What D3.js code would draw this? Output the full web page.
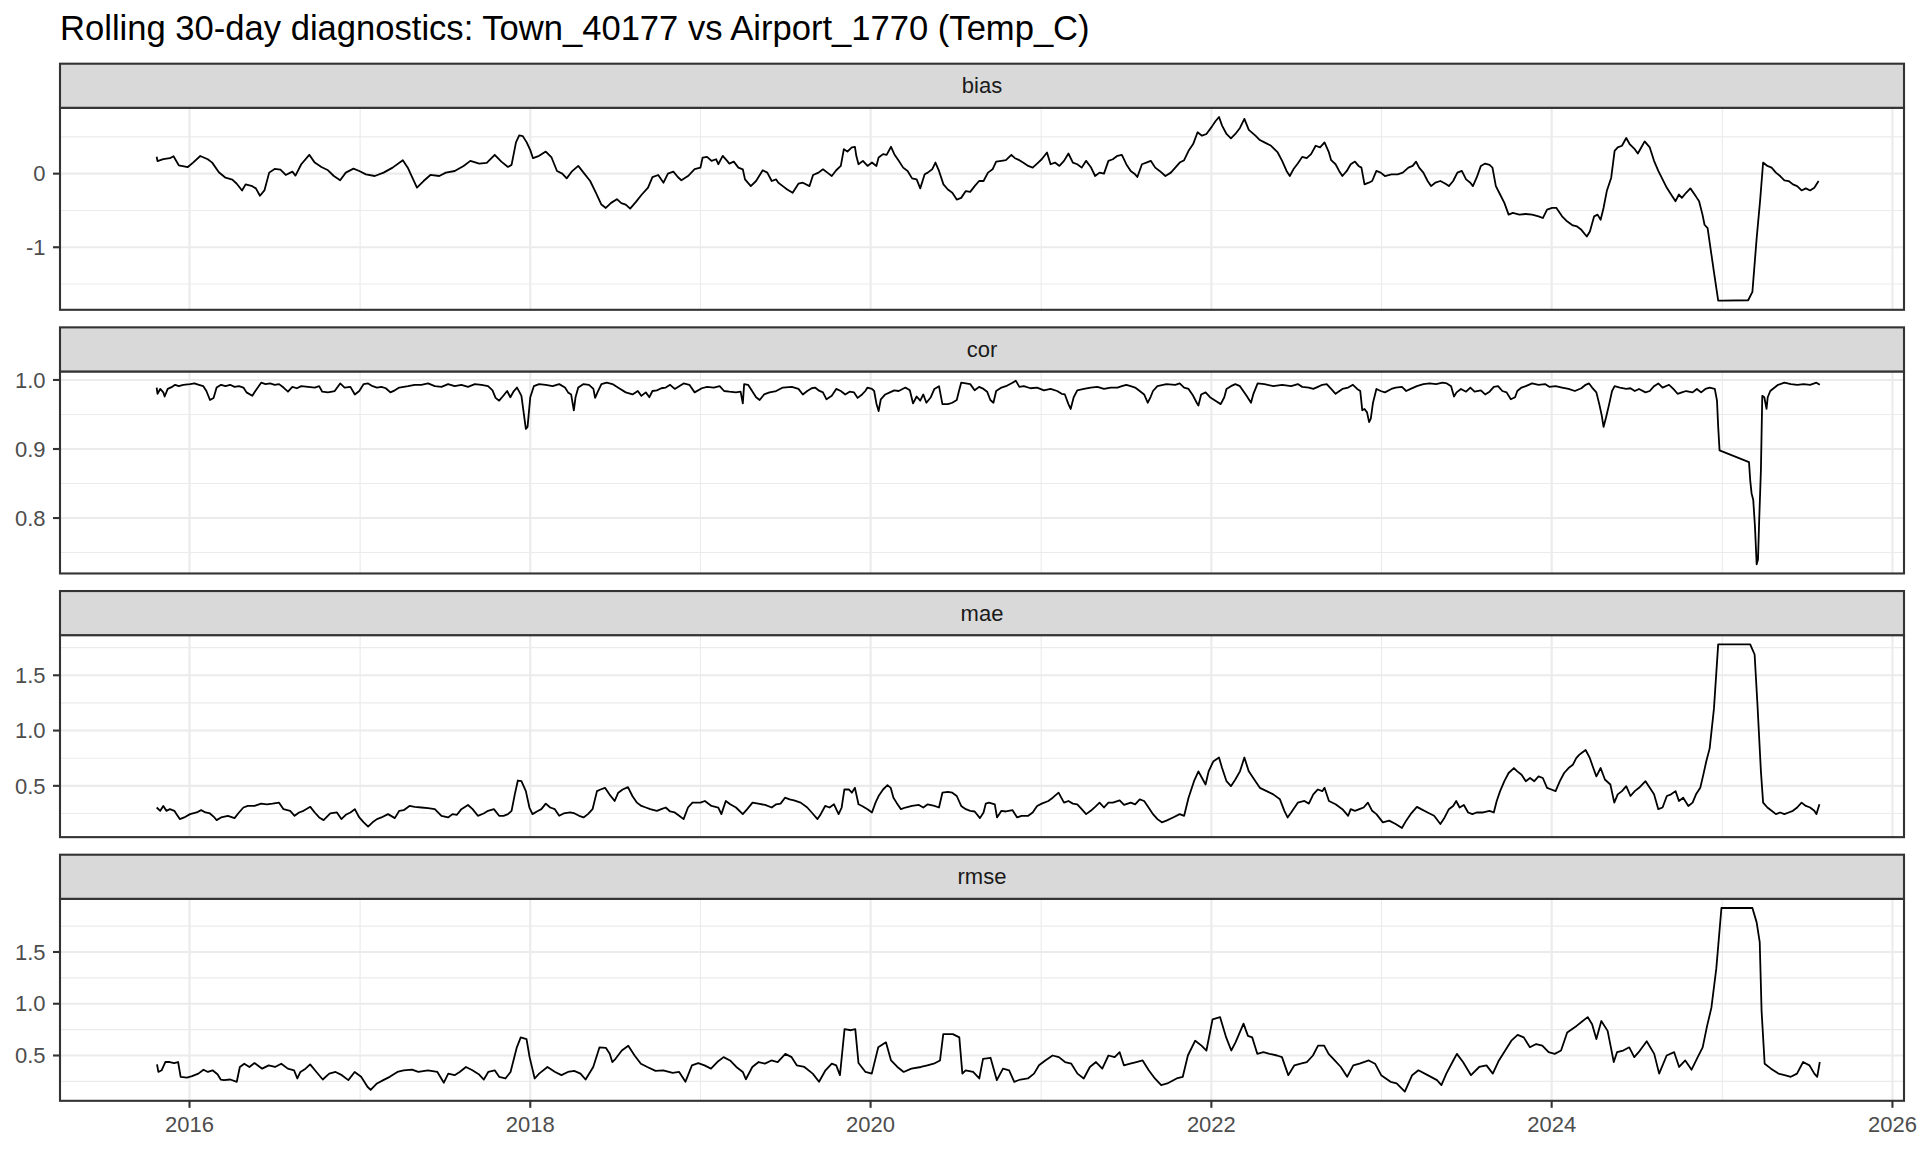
<!DOCTYPE html>
<html><head><meta charset="utf-8">
<script src="https://cdn.jsdelivr.net/npm/d3@7"></script>
<style>body{margin:0;background:#fff} svg{display:block} text{font-family:"Liberation Sans",Arial,sans-serif}</style>
</head><body><svg id="c" width="1920" height="1152"></svg>
<script>
const titleText = "Rolling 30-day diagnostics: Town_40177 vs Airport_1770 (Temp_C)";
const facetNames = ["bias","cor","mae","rmse"];
const dateRange = ["2015-09-25","2025-07-30"];
const xMajorYears = [2016,2018,2020,2022,2024,2026];
const xMinorYears = [2015,2017,2019,2021,2023,2025];
const biasTicks = [-1,0], biasLabels = ["-1","0"], biasMinor = [-1.5,-0.5,0.5];
const corTicks = [0.8,0.9,1.0], corLabels = ["0.8","0.9","1.0"], corMinor = [0.75,0.85,0.95];
const maeTicks = [0.5,1.0,1.5], maeLabels = ["0.5","1.0","1.5"], maeMinor = [0.25,0.75,1.25,1.75];
const rmseTicks = [0.5,1.0,1.5], rmseLabels = ["0.5","1.0","1.5"], rmseMinor = [0.25,0.75,1.25,1.75];

// [decimal year, value]
const biasData = [[2015.807,0.23],[2015.812,0.17],[2015.846,0.196],[2015.885,0.21],[2015.906,0.237],[2015.937,0.114],[2015.99,0.09],[2016.021,0.15],[2016.063,0.24],[2016.107,0.196],[2016.133,0.15],[2016.172,0.02],[2016.211,-0.055],[2016.251,-0.08],[2016.277,-0.137],[2016.308,-0.228],[2016.329,-0.146],[2016.368,-0.17],[2016.389,-0.2],[2016.413,-0.3],[2016.439,-0.228],[2016.467,0.014],[2016.499,0.064],[2016.533,0.055],[2016.564,-0.018],[2016.603,0.027],[2016.621,-0.027],[2016.655,0.128],[2016.702,0.256],[2016.734,0.15],[2016.773,0.09],[2016.812,0.046],[2016.846,-0.032],[2016.883,-0.09],[2016.916,0.014],[2016.961,0.068],[2016.995,0.036],[2017.034,-0.01],[2017.086,-0.032],[2017.138,0.014],[2017.191,0.082],[2017.251,0.183],[2017.282,0.073],[2017.334,-0.19],[2017.373,-0.1],[2017.413,-0.018],[2017.465,-0.032],[2017.504,0.014],[2017.556,0.036],[2017.608,0.105],[2017.648,0.174],[2017.7,0.137],[2017.744,0.146],[2017.791,0.256],[2017.83,0.164],[2017.869,0.091],[2017.89,0.119],[2017.916,0.425],[2017.935,0.52],[2017.956,0.51],[2017.979,0.425],[2018.0,0.32],[2018.016,0.21],[2018.052,0.242],[2018.091,0.3],[2018.125,0.22],[2018.157,0.036],[2018.188,0.0],[2018.214,-0.064],[2018.243,0.027],[2018.282,0.105],[2018.313,0.014],[2018.352,-0.1],[2018.386,-0.26],[2018.418,-0.42],[2018.444,-0.466],[2018.475,-0.397],[2018.509,-0.347],[2018.535,-0.4],[2018.561,-0.42],[2018.587,-0.475],[2018.621,-0.384],[2018.653,-0.29],[2018.692,-0.19],[2018.718,-0.046],[2018.752,-0.018],[2018.783,-0.123],[2018.809,0.0],[2018.841,0.027],[2018.867,-0.046],[2018.888,-0.09],[2018.927,-0.032],[2018.966,0.06],
[2019.0,0.082],[2019.013,0.219],[2019.039,0.228],[2019.065,0.174],[2019.092,0.196],[2019.105,0.128],[2019.131,0.242],[2019.157,0.174],[2019.17,0.137],[2019.196,0.164],[2019.223,0.082],[2019.249,0.059],[2019.262,-0.078],[2019.296,-0.169],[2019.327,-0.1],[2019.366,0.046],[2019.393,0.014],[2019.419,-0.1],[2019.445,-0.078],[2019.458,-0.123],[2019.484,-0.169],[2019.51,-0.215],[2019.542,-0.26],[2019.576,-0.137],[2019.602,-0.123],[2019.641,-0.169],[2019.662,-0.018],[2019.694,0.014],[2019.72,0.059],[2019.746,0.014],[2019.772,-0.032],[2019.798,0.046],[2019.825,0.105],[2019.843,0.333],[2019.864,0.301],[2019.89,0.356],[2019.908,0.365],[2019.916,0.242],[2019.929,0.128],[2019.955,0.174],[2019.982,0.105],[2020.008,0.151],[2020.034,0.105],[2020.047,0.219],[2020.073,0.265],[2020.094,0.256],[2020.12,0.365],[2020.139,0.265],[2020.165,0.174],[2020.191,0.082],[2020.217,0.037],[2020.243,-0.064],[2020.27,-0.078],[2020.291,-0.2],[2020.317,-0.009],[2020.335,0.014],[2020.361,0.059],[2020.38,0.151],[2020.401,0.037],[2020.427,-0.146],[2020.453,-0.215],[2020.479,-0.26],[2020.505,-0.352],[2020.531,-0.329],[2020.558,-0.237],[2020.584,-0.247],[2020.61,-0.169],[2020.636,-0.1],[2020.662,-0.1],[2020.688,0.014],[2020.715,0.059],[2020.736,0.164],[2020.767,0.174],[2020.793,0.183],[2020.825,0.256],[2020.846,0.21],[2020.872,0.183],[2020.898,0.146],[2020.924,0.105],[2020.95,0.082],[2020.976,0.137],[2021.003,0.196],[2021.034,0.288],[2021.055,0.128],[2021.081,0.151],[2021.107,0.105],[2021.134,0.174],[2021.16,0.274],[2021.186,0.151],[2021.212,0.128],[2021.238,0.082],[2021.264,0.174],[2021.291,0.091],[2021.317,-0.032],[2021.343,0.014],[2021.369,0.0],[2021.395,0.174],[2021.421,0.196],[2021.448,0.242],[2021.474,0.256],[2021.5,0.128],[2021.526,0.037],[2021.552,-0.009],[2021.565,-0.046],[2021.592,0.128],[2021.618,0.151],[2021.644,0.174],[2021.67,0.082],[2021.696,0.037],[2021.73,-0.032],[2021.762,0.014],[2021.788,0.082],[2021.814,0.151],[2021.84,0.183],[2021.866,0.311],[2021.893,0.402],[2021.919,0.562],[2021.945,0.516],[2021.971,0.539],[2022.003,0.639],[2022.024,0.712],[2022.045,0.77],[2022.063,0.653],[2022.089,0.539],[2022.115,0.479],[2022.141,0.539],[2022.168,0.621],[2022.194,0.744],[2022.22,0.594],[2022.259,0.516],[2022.285,0.457],[2022.312,0.425],[2022.351,0.379],[2022.39,0.288],[2022.416,0.174],[2022.442,0.037],[2022.461,-0.032],[2022.482,0.059],[2022.508,0.137],[2022.534,0.228],[2022.56,0.21],[2022.586,0.265],[2022.613,0.379],[2022.639,0.356],[2022.665,0.425],[2022.691,0.288],[2022.704,0.183],[2022.73,0.128],[2022.751,0.037],[2022.77,-0.032],[2022.796,0.037],
[2022.819,0.128],[2022.844,0.164],[2022.865,0.105],[2022.882,0.082],[2022.9,-0.146],[2022.925,-0.123],[2022.945,-0.1],[2022.97,0.037],[2022.995,0.014],[2023.02,-0.032],[2023.058,-0.009],[2023.095,-0.009],[2023.125,0.014],[2023.158,0.082],[2023.183,0.105],[2023.203,0.164],[2023.221,0.082],[2023.246,0.014],[2023.271,-0.1],[2023.291,-0.169],[2023.316,-0.123],[2023.346,-0.1],[2023.376,-0.137],[2023.396,-0.169],[2023.421,-0.1],[2023.446,0.014],[2023.472,0.037],[2023.497,-0.078],[2023.522,-0.123],[2023.537,-0.169],[2023.559,-0.055],[2023.584,0.105],[2023.609,0.137],[2023.635,0.119],[2023.652,0.082],[2023.672,-0.169],[2023.697,-0.283],[2023.722,-0.397],[2023.747,-0.557],[2023.772,-0.534],[2023.81,-0.557],[2023.848,-0.548],[2023.885,-0.557],[2023.923,-0.58],[2023.948,-0.603],[2023.973,-0.489],[2024.003,-0.466],[2024.028,-0.466],[2024.061,-0.58],[2024.086,-0.639],[2024.124,-0.703],[2024.149,-0.717],[2024.174,-0.763],[2024.206,-0.854],[2024.224,-0.785],[2024.249,-0.58],[2024.269,-0.557],[2024.287,-0.626],[2024.304,-0.466],[2024.324,-0.228],[2024.349,-0.055],[2024.369,0.311],[2024.387,0.356],[2024.412,0.379],[2024.437,0.484],[2024.457,0.402],[2024.487,0.333],[2024.505,0.274],[2024.525,0.356],[2024.545,0.438],[2024.575,0.356],[2024.6,0.174],[2024.625,0.037],[2024.65,-0.078],[2024.675,-0.192],[2024.7,-0.283],[2024.726,-0.374],[2024.746,-0.283],[2024.763,-0.329],[2024.788,-0.26],[2024.813,-0.2],[2024.838,-0.283],[2024.851,-0.329],[2024.864,-0.374],[2024.884,-0.557],[2024.896,-0.694],[2024.914,-0.74],[2024.931,-1.014],[2024.951,-1.333],[2024.976,-1.725],[2025.001,-1.725],[2025.152,-1.72],[2025.177,-1.607],[2025.202,-0.877],[2025.222,-0.374],[2025.24,0.151],[2025.265,0.105],[2025.29,0.082],[2025.315,0.014],[2025.34,-0.032],[2025.365,-0.091],[2025.39,-0.1],[2025.415,-0.146],[2025.44,-0.169],[2025.466,-0.228],[2025.491,-0.2],[2025.516,-0.228],[2025.541,-0.192],[2025.566,-0.1]];

const corData = [[2015.807,0.989],[2015.812,0.98],[2015.828,0.987],[2015.846,0.982],[2015.854,0.976],[2015.872,0.987],[2015.898,0.99],[2015.916,0.993],[2015.937,0.991],[2015.963,0.993],[2016.003,0.994],[2016.029,0.995],[2016.055,0.993],[2016.081,0.991],[2016.099,0.984],[2016.12,0.971],[2016.141,0.974],[2016.159,0.989],[2016.185,0.993],[2016.211,0.991],[2016.238,0.993],[2016.264,0.99],[2016.29,0.991],[2016.316,0.989],[2016.334,0.982],[2016.368,0.977],[2016.386,0.984],[2016.42,0.996],[2016.446,0.994],[2016.473,0.995],[2016.499,0.993],[2016.525,0.994],[2016.551,0.989],[2016.577,0.983],[2016.603,0.99],[2016.629,0.988],[2016.655,0.991],[2016.695,0.99],[2016.734,0.989],[2016.76,0.991],[2016.778,0.983],[2016.812,0.982],[2016.851,0.984],[2016.883,0.995],[2016.909,0.989],[2016.943,0.99],[2016.969,0.979],[2016.995,0.984],[2017.021,0.994],[2017.047,0.995],[2017.073,0.991],[2017.099,0.989],[2017.125,0.99],[2017.151,0.988],[2017.178,0.982],[2017.204,0.985],[2017.23,0.989],[2017.256,0.99],[2017.282,0.991],[2017.321,0.993],[2017.36,0.993],[2017.399,0.995],[2017.439,0.991],[2017.478,0.99],[2017.517,0.994],[2017.556,0.991],[2017.595,0.993],[2017.634,0.99],[2017.674,0.994],[2017.713,0.993],[2017.752,0.991],[2017.778,0.985],[2017.796,0.974],[2017.817,0.97],[2017.838,0.976],[2017.864,0.984],[2017.883,0.975],[2017.901,0.983],[2017.922,0.989],[2017.935,0.983],[2017.948,0.977],[2017.961,0.953],[2017.974,0.929],[2017.984,0.932],[2018.0,0.975],[2018.021,0.991],[2018.052,0.994],[2018.091,0.993],[2018.131,0.991],[2018.17,0.994],[2018.204,0.989],[2018.222,0.982],[2018.24,0.979],[2018.256,0.956],[2018.266,0.975],[2018.282,0.989],[2018.313,0.994],[2018.345,0.993],[2018.371,0.987],[2018.381,0.974],[2018.397,0.983],[2018.418,0.994],[2018.449,0.996],[2018.483,0.994],[2018.522,0.988],[2018.561,0.982],[2018.601,0.979],[2018.632,0.984],[2018.653,0.977],[2018.679,0.982],[2018.7,0.975],[2018.718,0.984],[2018.744,0.985],[2018.77,0.988],[2018.796,0.989],[2018.822,0.993],[2018.849,0.987],[2018.875,0.991],[2018.901,0.995],[2018.935,0.993],[2018.966,0.982],
[2019.008,0.988],[2019.039,0.99],[2019.079,0.989],[2019.113,0.991],[2019.139,0.984],[2019.17,0.983],[2019.209,0.982],[2019.236,0.983],[2019.249,0.966],[2019.257,0.994],[2019.28,0.993],[2019.301,0.985],[2019.327,0.975],[2019.348,0.971],[2019.374,0.979],[2019.406,0.982],[2019.445,0.984],[2019.484,0.989],[2019.537,0.99],[2019.576,0.987],[2019.602,0.979],[2019.628,0.984],[2019.654,0.988],[2019.673,0.989],[2019.694,0.985],[2019.72,0.982],[2019.741,0.972],[2019.772,0.977],[2019.798,0.987],[2019.825,0.984],[2019.851,0.979],[2019.877,0.983],[2019.903,0.982],[2019.924,0.974],[2019.95,0.979],[2019.969,0.984],[2019.982,0.989],[2020.008,0.987],[2020.021,0.984],[2020.034,0.966],[2020.047,0.955],[2020.06,0.972],[2020.086,0.979],[2020.113,0.982],[2020.139,0.985],[2020.165,0.984],[2020.204,0.989],[2020.23,0.985],[2020.249,0.966],[2020.27,0.976],[2020.291,0.97],[2020.309,0.979],[2020.327,0.967],[2020.353,0.975],[2020.374,0.987],[2020.401,0.991],[2020.421,0.965],[2020.453,0.965],[2020.479,0.967],[2020.505,0.971],[2020.518,0.984],[2020.531,0.996],[2020.558,0.995],[2020.584,0.994],[2020.61,0.985],[2020.636,0.99],[2020.662,0.987],[2020.683,0.983],[2020.702,0.971],[2020.72,0.967],[2020.736,0.984],[2020.767,0.989],[2020.793,0.991],[2020.832,0.996],[2020.851,0.999],[2020.872,0.99],[2020.898,0.991],[2020.937,0.988],[2020.976,0.989],[2021.016,0.985],[2021.055,0.987],[2021.094,0.984],[2021.12,0.98],[2021.139,0.979],[2021.16,0.965],[2021.173,0.958],[2021.191,0.975],[2021.212,0.985],[2021.251,0.987],[2021.291,0.989],[2021.33,0.99],[2021.369,0.987],[2021.408,0.989],[2021.448,0.989],[2021.474,0.991],[2021.5,0.993],[2021.526,0.991],[2021.552,0.989],[2021.579,0.984],[2021.605,0.979],[2021.626,0.967],[2021.644,0.976],[2021.657,0.984],[2021.683,0.991],[2021.736,0.994],[2021.788,0.993],[2021.814,0.995],[2021.84,0.989],[2021.866,0.987],[2021.893,0.977],[2021.914,0.967],[2021.924,0.963],[2021.94,0.979],[2021.966,0.982],[2021.992,0.975],[2022.024,0.97],[2022.055,0.965],[2022.076,0.975],[2022.089,0.987],[2022.115,0.991],[2022.141,0.994],[2022.168,0.991],[2022.207,0.977],[2022.233,0.967],[2022.246,0.979],[2022.272,0.995],[2022.312,0.994],[2022.364,0.991],[2022.416,0.993],[2022.469,0.991],[2022.508,0.994],[2022.534,0.99],[2022.573,0.989],[2022.599,0.987],[2022.626,0.99],[2022.652,0.993],[2022.678,0.994],[2022.704,0.987],[2022.73,0.98],[2022.77,0.987],[2022.804,0.989],
[2022.832,0.993],[2022.857,0.987],[2022.875,0.984],[2022.887,0.956],[2022.9,0.958],[2022.915,0.953],[2022.927,0.939],[2022.937,0.944],[2022.95,0.967],[2022.962,0.979],[2022.97,0.987],[2022.995,0.984],[2023.02,0.982],[2023.058,0.987],[2023.083,0.989],[2023.12,0.99],[2023.145,0.984],[2023.171,0.987],[2023.208,0.991],[2023.246,0.994],[2023.283,0.995],[2023.321,0.994],[2023.359,0.996],[2023.384,0.995],[2023.409,0.991],[2023.426,0.976],[2023.441,0.982],[2023.467,0.987],[2023.497,0.983],[2023.522,0.989],[2023.547,0.983],[2023.584,0.985],[2023.609,0.979],[2023.635,0.983],[2023.66,0.99],[2023.685,0.991],[2023.71,0.984],[2023.735,0.982],[2023.76,0.972],[2023.785,0.975],[2023.798,0.984],[2023.823,0.989],[2023.848,0.991],[2023.885,0.995],[2023.923,0.993],[2023.961,0.994],[2023.986,0.99],[2024.023,0.991],[2024.061,0.989],[2024.099,0.987],[2024.136,0.984],[2024.174,0.988],[2024.199,0.993],[2024.219,0.995],[2024.237,0.989],[2024.262,0.982],[2024.279,0.965],[2024.294,0.948],[2024.304,0.932],[2024.319,0.946],[2024.337,0.965],[2024.354,0.984],[2024.369,0.991],[2024.4,0.989],[2024.437,0.987],[2024.462,0.988],[2024.487,0.984],[2024.512,0.987],[2024.55,0.982],[2024.575,0.984],[2024.6,0.991],[2024.625,0.995],[2024.65,0.989],[2024.688,0.993],[2024.713,0.987],[2024.738,0.98],[2024.763,0.982],[2024.788,0.984],[2024.826,0.982],[2024.851,0.987],[2024.876,0.982],[2024.901,0.987],[2024.926,0.989],[2024.956,0.987],[2024.969,0.97],[2024.976,0.932],[2024.984,0.898],[2025.157,0.881],[2025.164,0.855],[2025.172,0.836],[2025.182,0.826],[2025.192,0.788],[2025.202,0.733],[2025.21,0.74],[2025.217,0.798],[2025.227,0.869],[2025.235,0.977],[2025.247,0.975],[2025.26,0.958],[2025.267,0.975],[2025.282,0.984],[2025.302,0.988],[2025.328,0.993],[2025.365,0.996],[2025.403,0.994],[2025.441,0.993],[2025.478,0.994],[2025.516,0.993],[2025.553,0.996],[2025.573,0.993]];

const maeData = [[2015.807,0.304],[2015.828,0.274],[2015.846,0.318],[2015.864,0.274],[2015.885,0.289],[2015.911,0.274],[2015.924,0.244],[2015.943,0.199],[2015.969,0.214],[2016.003,0.244],[2016.042,0.259],[2016.068,0.28],[2016.094,0.259],[2016.12,0.25],[2016.146,0.214],[2016.159,0.19],[2016.185,0.214],[2016.225,0.229],[2016.264,0.208],[2016.29,0.259],[2016.316,0.304],[2016.342,0.318],[2016.381,0.318],[2016.42,0.339],[2016.454,0.333],[2016.486,0.339],[2016.525,0.348],[2016.551,0.289],[2016.59,0.274],[2016.616,0.229],[2016.642,0.259],[2016.668,0.274],[2016.708,0.31],[2016.734,0.259],[2016.76,0.214],[2016.786,0.19],[2016.825,0.25],[2016.864,0.259],[2016.89,0.199],[2016.916,0.238],[2016.943,0.259],[2016.969,0.289],[2016.995,0.214],[2017.021,0.17],[2017.047,0.131],[2017.073,0.17],[2017.099,0.199],[2017.125,0.214],[2017.164,0.244],[2017.204,0.208],[2017.23,0.274],[2017.256,0.28],[2017.29,0.318],[2017.321,0.31],[2017.36,0.304],[2017.399,0.298],[2017.439,0.289],[2017.478,0.229],[2017.517,0.214],[2017.543,0.244],[2017.569,0.238],[2017.595,0.289],[2017.634,0.327],[2017.661,0.289],[2017.692,0.229],[2017.726,0.25],[2017.752,0.274],[2017.786,0.289],[2017.817,0.229],[2017.843,0.229],[2017.869,0.244],[2017.89,0.274],[2017.909,0.423],[2017.927,0.548],[2017.948,0.542],[2017.974,0.452],[2017.995,0.304],[2018.013,0.244],[2018.039,0.268],[2018.065,0.289],[2018.091,0.339],[2018.117,0.304],[2018.144,0.289],[2018.17,0.229],[2018.196,0.25],[2018.235,0.259],[2018.261,0.25],[2018.287,0.229],[2018.313,0.214],[2018.339,0.244],[2018.366,0.289],[2018.392,0.452],[2018.413,0.467],[2018.439,0.482],[2018.465,0.423],[2018.496,0.363],[2018.517,0.438],[2018.543,0.467],[2018.574,0.488],[2018.6,0.408],[2018.627,0.348],[2018.653,0.318],[2018.679,0.304],[2018.705,0.289],[2018.744,0.274],[2018.77,0.289],[2018.796,0.304],[2018.822,0.268],[2018.849,0.259],[2018.875,0.229],[2018.901,0.199],[2018.927,0.304],[2018.953,0.348],
[2019.0,0.348],[2019.026,0.363],[2019.065,0.318],[2019.105,0.304],[2019.123,0.244],[2019.149,0.363],[2019.175,0.333],[2019.209,0.304],[2019.249,0.244],[2019.275,0.289],[2019.306,0.348],[2019.34,0.339],[2019.38,0.327],[2019.419,0.304],[2019.445,0.333],[2019.471,0.339],[2019.497,0.393],[2019.524,0.378],[2019.55,0.369],[2019.589,0.348],[2019.628,0.304],[2019.654,0.259],[2019.688,0.199],[2019.707,0.244],[2019.733,0.318],[2019.759,0.304],[2019.785,0.333],[2019.812,0.244],[2019.83,0.304],[2019.846,0.467],[2019.872,0.467],[2019.89,0.438],[2019.908,0.482],[2019.929,0.333],[2019.95,0.318],[2019.982,0.289],[2020.008,0.259],[2020.029,0.348],[2020.047,0.408],[2020.073,0.467],[2020.099,0.506],[2020.118,0.482],[2020.134,0.393],[2020.152,0.348],[2020.178,0.289],[2020.204,0.304],[2020.243,0.318],[2020.283,0.327],[2020.309,0.304],[2020.335,0.333],[2020.374,0.318],[2020.401,0.304],[2020.421,0.438],[2020.453,0.446],[2020.479,0.438],[2020.505,0.408],[2020.531,0.318],[2020.558,0.289],[2020.584,0.274],[2020.61,0.268],[2020.641,0.208],[2020.662,0.259],[2020.675,0.339],[2020.694,0.348],[2020.728,0.333],[2020.741,0.214],[2020.767,0.274],[2020.793,0.268],[2020.832,0.28],[2020.859,0.214],[2020.885,0.229],[2020.924,0.229],[2020.95,0.259],[2020.976,0.318],[2021.003,0.339],[2021.042,0.363],[2021.068,0.393],[2021.102,0.438],[2021.134,0.348],[2021.16,0.363],[2021.186,0.339],[2021.212,0.333],[2021.238,0.289],[2021.264,0.244],[2021.291,0.274],[2021.317,0.31],[2021.343,0.348],[2021.369,0.304],[2021.395,0.348],[2021.421,0.348],[2021.461,0.369],[2021.487,0.327],[2021.526,0.348],[2021.552,0.333],[2021.579,0.378],[2021.605,0.363],[2021.631,0.304],[2021.657,0.244],[2021.683,0.199],[2021.709,0.17],[2021.736,0.185],[2021.775,0.214],[2021.814,0.244],[2021.84,0.229],[2021.866,0.393],[2021.898,0.542],[2021.924,0.631],[2021.945,0.571],[2021.966,0.512],[2021.984,0.631],[2022.011,0.72],[2022.045,0.756],[2022.063,0.661],[2022.089,0.542],[2022.115,0.497],[2022.141,0.557],[2022.168,0.631],[2022.194,0.756],[2022.22,0.631],[2022.259,0.542],[2022.285,0.482],[2022.325,0.452],[2022.364,0.423],[2022.403,0.378],[2022.429,0.274],[2022.448,0.214],[2022.469,0.259],[2022.508,0.348],[2022.547,0.363],[2022.573,0.339],[2022.599,0.423],[2022.626,0.467],[2022.652,0.452],[2022.665,0.482],[2022.691,0.363],[2022.73,0.333],[2022.77,0.289],[2022.804,0.229],
[2022.819,0.289],[2022.844,0.274],[2022.87,0.289],[2022.895,0.304],[2022.92,0.348],[2022.945,0.274],[2022.97,0.244],[2023.008,0.17],[2023.045,0.185],[2023.083,0.155],[2023.12,0.119],[2023.145,0.185],[2023.171,0.244],[2023.208,0.31],[2023.233,0.289],[2023.271,0.259],[2023.309,0.229],[2023.346,0.155],[2023.371,0.214],[2023.396,0.289],[2023.421,0.318],[2023.439,0.363],[2023.459,0.304],[2023.484,0.327],[2023.509,0.259],[2023.534,0.244],[2023.559,0.259],[2023.597,0.259],[2023.635,0.274],[2023.66,0.259],[2023.677,0.363],[2023.697,0.452],[2023.722,0.542],[2023.747,0.616],[2023.778,0.661],[2023.798,0.631],[2023.823,0.601],[2023.848,0.542],[2023.873,0.571],[2023.898,0.542],[2023.923,0.586],[2023.948,0.571],[2023.973,0.482],[2023.998,0.467],[2024.023,0.452],[2024.048,0.542],[2024.073,0.616],[2024.099,0.661],[2024.124,0.69],[2024.144,0.75],[2024.161,0.78],[2024.181,0.804],[2024.199,0.824],[2024.224,0.75],[2024.244,0.661],[2024.262,0.586],[2024.287,0.661],[2024.312,0.557],[2024.344,0.512],[2024.367,0.348],[2024.387,0.423],[2024.412,0.452],[2024.437,0.497],[2024.462,0.408],[2024.487,0.452],[2024.512,0.482],[2024.55,0.542],[2024.575,0.482],[2024.6,0.423],[2024.625,0.289],[2024.65,0.304],[2024.675,0.408],[2024.7,0.423],[2024.726,0.452],[2024.746,0.363],[2024.771,0.393],[2024.801,0.318],[2024.826,0.348],[2024.846,0.423],[2024.871,0.482],[2024.889,0.601],[2024.906,0.72],[2024.926,0.839],[2024.951,1.196],[2024.976,1.78],[2025.164,1.78],[2025.19,1.688],[2025.207,1.226],[2025.227,0.631],[2025.24,0.348],[2025.265,0.304],[2025.29,0.274],[2025.315,0.244],[2025.34,0.259],[2025.365,0.244],[2025.39,0.259],[2025.415,0.274],[2025.44,0.304],[2025.466,0.348],[2025.491,0.318],[2025.516,0.304],[2025.541,0.274],[2025.553,0.244],[2025.571,0.333]];

const rmseData = [[2015.809,0.414],[2015.817,0.341],[2015.836,0.357],[2015.858,0.437],[2015.884,0.437],[2015.91,0.427],[2015.933,0.437],[2015.948,0.294],[2015.985,0.287],[2016.015,0.3],[2016.052,0.325],[2016.082,0.363],[2016.108,0.341],[2016.135,0.357],[2016.164,0.319],[2016.183,0.268],[2016.202,0.262],[2016.239,0.268],[2016.277,0.246],[2016.295,0.389],[2016.321,0.421],[2016.351,0.389],[2016.381,0.427],[2016.426,0.373],[2016.464,0.405],[2016.501,0.389],[2016.538,0.421],[2016.576,0.373],[2016.613,0.357],[2016.632,0.278],[2016.65,0.341],[2016.68,0.373],[2016.707,0.414],[2016.744,0.341],[2016.781,0.268],[2016.819,0.325],[2016.856,0.341],[2016.893,0.31],[2016.931,0.262],[2016.968,0.341],[2017.006,0.294],[2017.043,0.198],[2017.062,0.167],[2017.099,0.23],[2017.136,0.262],[2017.174,0.294],[2017.219,0.341],[2017.256,0.357],[2017.305,0.363],[2017.342,0.341],[2017.398,0.357],[2017.454,0.341],[2017.492,0.237],[2017.518,0.325],[2017.555,0.31],[2017.585,0.341],[2017.622,0.389],[2017.66,0.357],[2017.697,0.319],[2017.727,0.268],[2017.753,0.341],[2017.791,0.357],[2017.817,0.294],[2017.854,0.278],[2017.884,0.341],[2017.921,0.579],[2017.944,0.675],[2017.978,0.659],[2017.996,0.484],[2018.026,0.278],[2018.052,0.325],[2018.101,0.389],[2018.146,0.341],[2018.183,0.31],[2018.221,0.341],[2018.258,0.351],[2018.295,0.325],[2018.325,0.268],[2018.37,0.389],[2018.407,0.579],[2018.445,0.573],[2018.467,0.516],[2018.482,0.437],[2018.501,0.468],[2018.538,0.548],[2018.576,0.595],[2018.613,0.5],[2018.65,0.421],[2018.688,0.389],[2018.736,0.351],[2018.781,0.357],[2018.837,0.332],[2018.875,0.341],[2018.912,0.246],[2018.95,0.405],[2018.987,0.427],[2019.024,0.405],[2019.062,0.373],[2019.099,0.437],[2019.136,0.484],[2019.174,0.452],[2019.211,0.389],[2019.249,0.341],[2019.267,0.271],[2019.305,0.389],[2019.342,0.437],[2019.379,0.421],[2019.417,0.452],[2019.454,0.437],[2019.499,0.516],[2019.536,0.484],[2019.566,0.405],[2019.611,0.389],[2019.66,0.325],[2019.697,0.246],[2019.735,0.357],[2019.772,0.421],[2019.798,0.405],[2019.82,0.31],[2019.847,0.754],[2019.884,0.744],[2019.91,0.754],[2019.929,0.427],[2019.97,0.341],[2020.007,0.325],[2020.045,0.579],[2020.09,0.627],[2020.12,0.452],[2020.157,0.389],[2020.194,0.341],[2020.239,0.373],[2020.295,0.389],[2020.333,0.405],[2020.37,0.421],[2020.407,0.452],[2020.426,0.706],[2020.482,0.706],[2020.52,0.675],[2020.538,0.325],
[2020.557,0.357],[2020.601,0.341],[2020.637,0.278],[2020.659,0.468],[2020.703,0.478],[2020.74,0.262],[2020.776,0.373],[2020.812,0.357],[2020.842,0.246],[2020.878,0.268],[2020.922,0.278],[2020.958,0.325],[2020.987,0.405],[2021.024,0.452],[2021.067,0.5],[2021.104,0.484],[2021.14,0.437],[2021.177,0.421],[2021.213,0.325],[2021.25,0.278],[2021.286,0.389],[2021.322,0.437],[2021.359,0.373],[2021.395,0.5],[2021.432,0.484],[2021.461,0.532],[2021.486,0.405],[2021.523,0.421],[2021.559,0.437],[2021.596,0.452],[2021.632,0.357],[2021.668,0.278],[2021.705,0.214],[2021.741,0.23],[2021.796,0.278],[2021.832,0.294],[2021.862,0.5],[2021.905,0.643],[2021.942,0.595],[2021.971,0.548],[2022.007,0.849],[2022.051,0.871],[2022.087,0.675],[2022.117,0.548],[2022.142,0.627],[2022.189,0.808],[2022.215,0.69],[2022.24,0.675],[2022.27,0.516],[2022.306,0.532],[2022.342,0.516],[2022.386,0.5],[2022.415,0.484],[2022.452,0.31],[2022.488,0.405],[2022.525,0.421],[2022.561,0.437],[2022.597,0.5],[2022.627,0.595],[2022.663,0.595],[2022.689,0.516],[2022.725,0.452],[2022.761,0.389],[2022.798,0.294],[2022.834,0.405],[2022.871,0.421],[2022.925,0.452],[2022.962,0.421],[2022.998,0.31],[2023.053,0.246],[2023.089,0.23],[2023.137,0.151],[2023.18,0.31],[2023.217,0.357],[2023.271,0.31],[2023.326,0.262],[2023.352,0.214],[2023.381,0.325],[2023.417,0.437],[2023.443,0.516],[2023.479,0.437],[2023.526,0.31],[2023.574,0.389],[2023.617,0.405],[2023.654,0.325],[2023.69,0.452],[2023.727,0.548],[2023.763,0.643],[2023.8,0.7],[2023.836,0.675],[2023.872,0.579],[2023.909,0.611],[2023.945,0.595],[2023.982,0.532],[2024.018,0.516],[2024.055,0.548],[2024.091,0.722],[2024.146,0.786],[2024.182,0.833],[2024.211,0.871],[2024.237,0.802],[2024.262,0.659],[2024.291,0.833],[2024.328,0.738],[2024.364,0.437],[2024.383,0.532],[2024.419,0.548],[2024.455,0.579],[2024.484,0.484],[2024.51,0.532],[2024.557,0.637],[2024.601,0.516],[2024.63,0.325],[2024.674,0.5],[2024.718,0.532],[2024.747,0.389],[2024.783,0.452],[2024.82,0.363],[2024.856,0.484],[2024.885,0.579],[2024.911,0.786],[2024.936,0.96],[2024.965,1.341],[2024.995,1.925],[2025.177,1.925],[2025.202,1.786],[2025.22,1.595],[2025.231,0.929],[2025.249,0.421],[2025.286,0.373],[2025.33,0.325],[2025.366,0.31],[2025.403,0.294],[2025.439,0.325],[2025.475,0.437],[2025.512,0.405],[2025.541,0.325],[2025.558,0.294],[2025.573,0.437]];

// ---- build panel table from the arrays above ----
const panels = [
  {name: facetNames[0], data: biasData, ticks: biasTicks, labels: biasLabels, minor: biasMinor},
  {name: facetNames[1], data: corData,  ticks: corTicks,  labels: corLabels,  minor: corMinor},
  {name: facetNames[2], data: maeData,  ticks: maeTicks,  labels: maeLabels,  minor: maeMinor},
  {name: facetNames[3], data: rmseData, ticks: rmseTicks, labels: rmseLabels, minor: rmseMinor}
];

function dy(y){const yr=Math.floor(y);const s=Date.UTC(yr,0,1),e=Date.UTC(yr+1,0,1);return new Date(s+(y-yr)*(e-s));}

const W=1920, L=60, R=1904;
const top0=63.7, stripH=44.1, panelH=202, gap=17.57;
const svg=d3.select("#c");

const d0=new Date(dateRange[0]+"T00:00:00Z"), d1=new Date(dateRange[1]+"T00:00:00Z");
const span=d1-d0;
const x=d3.scaleUtc().domain([new Date(+d0-0.05*span), new Date(+d1+0.05*span)]).range([L,R]);

svg.append("text").attr("x",60).attr("y",40).attr("font-size",34.6).attr("fill","#000").text(titleText);

panels.forEach((p,i)=>{
  const sTop=top0+i*(stripH+panelH+gap);
  const pTop=sTop+stripH, pBot=pTop+panelH;
  const ext=d3.extent(p.data,d=>d[1]); const r=ext[1]-ext[0];
  const y=d3.scaleLinear().domain([ext[0]-0.05*r, ext[1]+0.05*r]).range([pBot,pTop]);
  const g=svg.append("g");
  const clipId="clip"+i;
  svg.append("clipPath").attr("id",clipId).append("rect").attr("x",L).attr("y",pTop).attr("width",R-L).attr("height",panelH);
  const grid=g.append("g").attr("clip-path",`url(#${clipId})`);
  grid.selectAll(".ymin").data(p.minor).join("line").attr("x1",L).attr("x2",R).attr("y1",d=>y(d)).attr("y2",d=>y(d)).attr("stroke","#EBEBEB").attr("stroke-width",1.1);
  grid.selectAll(".xmin").data(xMinorYears).join("line").attr("x1",d=>x(dy(d))).attr("x2",d=>x(dy(d))).attr("y1",pTop).attr("y2",pBot).attr("stroke","#EBEBEB").attr("stroke-width",1.1);
  grid.selectAll(".ymaj").data(p.ticks).join("line").attr("x1",L).attr("x2",R).attr("y1",d=>y(d)).attr("y2",d=>y(d)).attr("stroke","#EBEBEB").attr("stroke-width",2.1);
  grid.selectAll(".xmaj").data(xMajorYears).join("line").attr("x1",d=>x(dy(d))).attr("x2",d=>x(dy(d))).attr("y1",pTop).attr("y2",pBot).attr("stroke","#EBEBEB").attr("stroke-width",2.1);
  const line=d3.line().x(d=>x(dy(d[0]))).y(d=>y(d[1]));
  grid.append("path").datum(p.data).attr("d",line).attr("fill","none").attr("stroke","#000").attr("stroke-width",1.8).attr("stroke-linejoin","round");
  g.append("rect").attr("x",L).attr("y",pTop).attr("width",R-L).attr("height",panelH).attr("fill","none").attr("stroke","#333333").attr("stroke-width",2.1);
  g.append("rect").attr("x",L).attr("y",sTop).attr("width",R-L).attr("height",stripH).attr("fill","#D9D9D9").attr("stroke","#333333").attr("stroke-width",2.1);
  g.append("text").attr("x",(L+R)/2).attr("y",sTop+stripH/2).attr("dy","0.35em").attr("text-anchor","middle").attr("font-size",22).attr("fill","#1A1A1A").text(p.name);
  g.selectAll(".yt").data(p.ticks).join("line").attr("x1",L-7).attr("x2",L).attr("y1",d=>y(d)).attr("y2",d=>y(d)).attr("stroke","#333333").attr("stroke-width",2.1);
  g.selectAll(".yl").data(p.ticks).join("text").attr("x",L-14.5).attr("y",d=>y(d)).attr("dy","0.35em").attr("text-anchor","end").attr("font-size",22).attr("fill","#4D4D4D").text((d,k)=>p.labels[k]);
  if(i===panels.length-1){
    g.selectAll(".xt").data(xMajorYears).join("line").attr("x1",d=>x(dy(d))).attr("x2",d=>x(dy(d))).attr("y1",pBot).attr("y2",pBot+7).attr("stroke","#333333").attr("stroke-width",2.1);
    g.selectAll(".xl").data(xMajorYears).join("text").attr("x",d=>x(dy(d))).attr("y",pBot+31).attr("text-anchor","middle").attr("font-size",22).attr("fill","#4D4D4D").text(d=>String(d));
  }
});
</script></body></html>
